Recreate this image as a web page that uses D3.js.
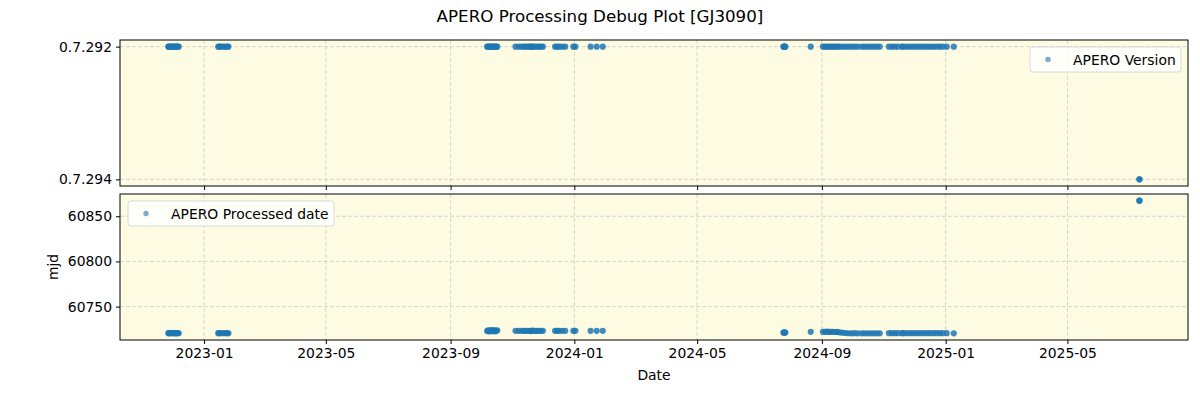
<!DOCTYPE html>
<html>
<head>
<meta charset="utf-8">
<script src="https://cdn.jsdelivr.net/npm/d3@7"></script>
<style>
  body { margin: 0; background: #fff; }
  svg text { font-family: "DejaVu Sans", sans-serif; }
</style>
</head>
<body>
<svg id="chart" width="1200" height="400"></svg>
<script>
// observation dates, one per point
var obsDates = [
    // late 2022
    "2022-11-27", "2022-11-27", "2022-11-28", "2022-11-29", "2022-11-30", "2022-12-01",
    "2022-12-02", "2022-12-03", "2022-12-04", "2022-12-05", "2022-12-06", "2022-12-07",
    "2023-01-15", "2023-01-16", "2023-01-18", "2023-01-20", "2023-01-22", "2023-01-24", "2023-01-25",
    // oct 2023 block
    "2023-10-07", "2023-10-08", "2023-10-09", "2023-10-10", "2023-10-11", "2023-10-12",
    "2023-10-13", "2023-10-14", "2023-10-15", "2023-10-16", "2023-10-17",
    "2023-11-04", "2023-11-07", "2023-11-10", "2023-11-12", "2023-11-14", "2023-11-16",
    "2023-11-18", "2023-11-19", "2023-11-20", "2023-11-21", "2023-11-23", "2023-11-25",
    "2023-11-27", "2023-11-29", "2023-12-01",
    "2023-12-13", "2023-12-15", "2023-12-17", "2023-12-20", "2023-12-23",
    "2023-12-31", "2024-01-02",
    "2024-01-17", "2024-01-23", "2024-01-29",
    // 2024 second half
    "2024-07-25", "2024-07-26", "2024-07-26", "2024-07-27",
    "2024-08-21",
    "2024-09-02", "2024-09-04", "2024-09-06", "2024-09-08", "2024-09-10", "2024-09-12",
    "2024-09-14", "2024-09-16", "2024-09-18", "2024-09-21", "2024-09-24", "2024-09-27",
    "2024-09-30", "2024-10-03", "2024-10-06",
    "2024-10-10", "2024-10-13", "2024-10-16", "2024-10-19", "2024-10-22", "2024-10-25", "2024-10-28",
    "2024-11-06", "2024-11-09", "2024-11-12", "2024-11-15", "2024-11-19",
    "2024-11-20", "2024-11-23", "2024-11-26", "2024-11-29", "2024-12-02", "2024-12-05",
    "2024-12-08", "2024-12-11", "2024-12-14", "2024-12-17", "2024-12-20", "2024-12-23",
    "2024-12-26", "2024-12-29", "2025-01-02",
    "2025-01-09",
    "2025-07-11", "2025-07-11"
];

// processed date (mjd), same order
var procMjd = [
    60720.5, 60720.7, 60720.4, 60720.8, 60720.6, 60720.5,
    60720.9, 60720.6, 60720.4, 60720.7, 60720.6, 60720.5,
    60720.6, 60720.6, 60720.5, 60720.7, 60720.6, 60720.6, 60720.5,
    60723.0, 60723.8, 60722.6, 60723.5, 60724.0, 60722.8,
    60723.4, 60723.9, 60722.7, 60723.2, 60723.6,
    60723.2, 60723.2, 60723.3, 60723.1, 60723.2, 60723.2,
    60723.3, 60722.9, 60723.2, 60723.4, 60723.2, 60723.1,
    60723.2, 60723.2, 60723.2,
    60723.2, 60723.2, 60723.2, 60723.2, 60723.2,
    60723.2, 60723.2,
    60723.2, 60723.2, 60723.2,
    60721.3, 60721.6, 60721.0, 60721.3,
    60722.1,
    60722.2, 60722.0, 60722.3, 60722.1, 60722.0, 60722.2,
    60721.9, 60722.0, 60721.6, 60721.2, 60720.8, 60720.5,
    60720.4, 60720.6, 60720.4,
    60720.4, 60720.4, 60720.4, 60720.4, 60720.4, 60720.4, 60720.4,
    60720.6, 60720.6, 60720.6, 60720.6, 60720.6,
    60720.6, 60720.6, 60720.6, 60720.6, 60720.6, 60720.6,
    60720.6, 60720.6, 60720.6, 60720.6, 60720.6, 60720.6,
    60720.6, 60720.6, 60720.6,
    60720.4,
    60867.3, 60867.3
];

// apero version, same order: only the last run is on 0.7.294
var versionNames = ["0.7.292", "0.7.294"];
var versions = obsDates.map(function (d, i) {
    return i >= obsDates.length - 2 ? versionNames[1] : versionNames[0];
});

var yTicksBottom = [60750, 60800, 60850];

var parse = d3.utcParse("%Y-%m-%d");
var points = obsDates.map(function (d, i) {
    return {date: parse(d), mjd: procMjd[i], version: versions[i]};
});

var svg = d3.select("#chart");
var left = 120, right = 1188;
var top1 = 40, bot1 = 186, top2 = 194, bot2 = 340;
var bg = "#fdfce3", dot = "#1f77b4";
var fs = "13.9px";

// x scale, matplotlib style 5% margins
var ext = d3.extent(points, function (p) { return p.date; });
var span = ext[1] - ext[0];
var x = d3.scaleUtc()
    .domain([new Date(+ext[0] - span * 0.05), new Date(+ext[1] + span * 0.05)])
    .range([left, right]);

// categorical y for the version panel, 5% margins like matplotlib
var vStep = (bot1 - top1) / 1.1;
var yv = d3.scalePoint().domain(versionNames)
    .range([top1 + vStep * 0.05, bot1 - vStep * 0.05]);

var mext = d3.extent(points, function (p) { return p.mjd; });
var mspan = mext[1] - mext[0];
var ym = d3.scaleLinear()
    .domain([mext[0] - mspan * 0.05, mext[1] + mspan * 0.05])
    .range([bot2, top2]);

var xTicks = x.ticks(d3.utcMonth.every(4));
var fmt = d3.utcFormat("%Y-%m");

function panel(y0, y1) {
    svg.append("rect").attr("x", left).attr("y", y0)
        .attr("width", right - left).attr("height", y1 - y0)
        .attr("fill", bg);
    // vertical grid
    svg.append("g").selectAll("line").data(xTicks).enter().append("line")
        .attr("x1", function (d) { return x(d); }).attr("x2", function (d) { return x(d); })
        .attr("y1", y0).attr("y2", y1)
        .attr("stroke", "#cccccc").attr("stroke-width", 0.8)
        .attr("stroke-dasharray", "4,2");
}

function hgrid(vals, scale) {
    svg.append("g").selectAll("line").data(vals).enter().append("line")
        .attr("x1", left).attr("x2", right)
        .attr("y1", function (d) { return scale(d); }).attr("y2", function (d) { return scale(d); })
        .attr("stroke", "#cccccc").attr("stroke-width", 0.8)
        .attr("stroke-dasharray", "4,2");
}

function frame(y0, y1) {
    svg.append("rect").attr("x", left).attr("y", y0)
        .attr("width", right - left).attr("height", y1 - y0)
        .attr("fill", "none").attr("stroke", "#000").attr("stroke-width", 1);
}

function styleAxis(g) {
    g.select(".domain").remove();
    g.selectAll("text").attr("font-size", fs).attr("fill", "#000");
    g.selectAll("line").attr("stroke", "#000");
}

function dots(yFn) {
    svg.append("g").selectAll("circle").data(points).enter().append("circle")
        .attr("cx", function (p) { return x(p.date); })
        .attr("cy", yFn)
        .attr("r", 3.1).attr("fill", dot).attr("fill-opacity", 0.85);
}

// top panel
panel(top1, bot1);
hgrid(versionNames, yv);
dots(function (p) { return yv(p.version); });
frame(top1, bot1);
svg.append("g").attr("transform", "translate(" + left + ",0)")
    .call(d3.axisLeft(yv).tickSize(4).tickPadding(4)).call(styleAxis);
svg.append("g").attr("transform", "translate(0," + bot1 + ")")
    .call(d3.axisBottom(x).tickValues(xTicks).tickSize(4).tickFormat("")).call(styleAxis);

// bottom panel
panel(top2, bot2);
hgrid(yTicksBottom, ym);
dots(function (p) { return ym(p.mjd); });
frame(top2, bot2);
svg.append("g").attr("transform", "translate(" + left + ",0)")
    .call(d3.axisLeft(ym).tickValues(yTicksBottom).tickFormat(d3.format("d")).tickSize(4).tickPadding(4))
    .call(styleAxis);
svg.append("g").attr("transform", "translate(0," + bot2 + ")")
    .call(d3.axisBottom(x).tickValues(xTicks).tickSize(4).tickPadding(4).tickFormat(fmt)).call(styleAxis);

// legends
function legend(lx, ly, w, label) {
    svg.append("rect").attr("x", lx).attr("y", ly).attr("width", w).attr("height", 25)
        .attr("rx", 3).attr("fill", "#ffffff").attr("fill-opacity", 0.8)
        .attr("stroke", "#d8d8d8");
    svg.append("circle").attr("cx", lx + 18).attr("cy", ly + 12.5).attr("r", 2.7)
        .attr("fill", dot).attr("fill-opacity", 0.6);
    svg.append("text").attr("x", lx + 43).attr("y", ly + 17.5)
        .attr("font-size", fs).text(label);
}
legend(1030, 47, 151, "APERO Version");
legend(128, 201, 206, "APERO Processed date");

// titles
svg.append("text").attr("x", 600).attr("y", 22).attr("text-anchor", "middle")
    .attr("font-size", "16.7px").text("APERO Processing Debug Plot [GJ3090]");
svg.append("text").attr("x", 654).attr("y", 380).attr("text-anchor", "middle")
    .attr("font-size", fs).text("Date");
svg.append("text").attr("transform", "translate(58," + ((top2 + bot2) / 2) + ") rotate(-90)")
    .attr("text-anchor", "middle").attr("font-size", fs).text("mjd");
</script>
</body>
</html>
